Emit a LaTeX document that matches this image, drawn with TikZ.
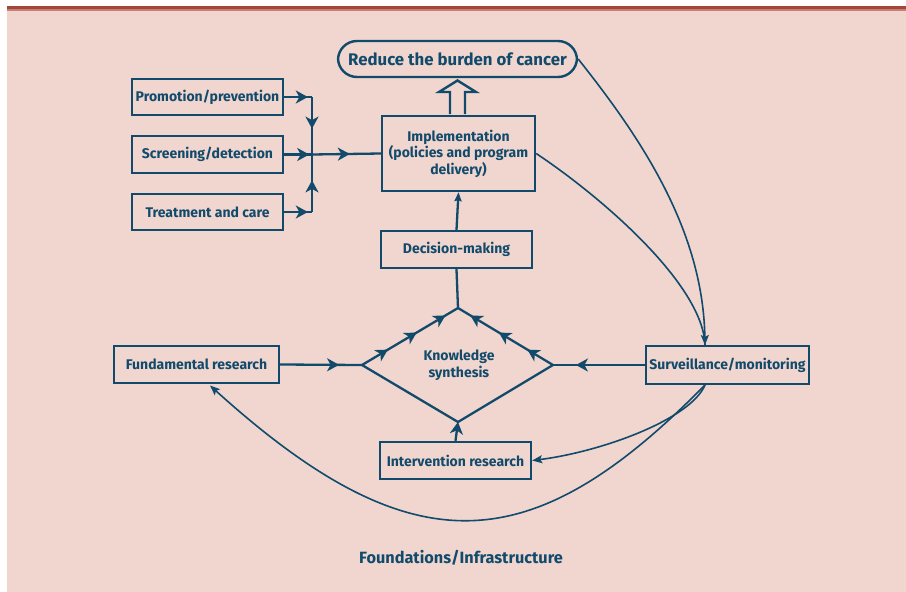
\documentclass[tikz,border=0pt]{standalone}
\usepackage{fontspec}
\setmainfont{Fira Sans}
\newfontfamily\condfont{Fira Sans}
\usetikzlibrary{arrows.meta,decorations.markings}
\definecolor{bgpink}{RGB}{240,214,207}
\definecolor{topred}{RGB}{166,70,58}
\definecolor{dblue}{RGB}{18,74,107}
\tikzset{
  box/.style={draw=dblue, line width=2.4pt, text=dblue, inner sep=0pt, align=center,
    font=\condfont\bfseries\fontsize{14}{16.5}\selectfont},
  ln/.style={draw=dblue, line width=2.3pt},
  cv/.style={draw=dblue, line width=1.6pt},
  midarr/.style={postaction={decorate,decoration={markings,
    mark=at position #1 with {\arrow{Stealth[length=12pt,width=13pt,inset=3.5pt]}}}}},
  endtip/.style={-{Stealth[length=10pt,width=8pt,inset=2pt]}},
}
\begin{document}
\begin{tikzpicture}[x=1pt,y=-1pt]
\useasboundingbox (0,0) rectangle (906,592);
\fill[bgpink] (7,6) rectangle (906,592);
\fill[topred] (7,6) rectangle (906,9.3);
\fill[topred!60!bgpink] (7,9.3) rectangle (906,10.5);

% nodes
\node[box, rounded corners=19pt, minimum width=239pt, minimum height=36pt,
  font=\condfont\bfseries\fontsize{16.8}{20}\selectfont] (reduce) at (457.5,59) {Reduce the burden of cancer};
\node[box, minimum width=151pt, minimum height=36pt] (prom) at (207.5,97) {Promotion/prevention};
\node[box, minimum width=151pt, minimum height=37pt] (scr) at (207.5,154.5) {Screening/detection};
\node[box, minimum width=151pt, minimum height=36pt] (treat) at (207.5,212) {Treatment and care};
\node[box, minimum width=153pt, minimum height=75pt] (impl) at (458.5,153.5) {Implementation\\(policies and program\\delivery)};
\node[box, minimum width=151pt, minimum height=37pt] (dec) at (456.5,249.5) {Decision-making};
\node[box, minimum width=165pt, minimum height=37pt] (fund) at (196.5,364.5) {Fundamental research};
\node[box, minimum width=163pt, minimum height=38pt] (surv) at (727.5,365) {Surveillance/monitoring};
\node[box, minimum width=151pt, minimum height=37pt] (inter) at (455.5,460.5) {Intervention research};
\node[text=dblue, align=center, font=\condfont\bfseries\fontsize{14}{17}\selectfont] (ks) at (459,365) {Knowledge\\synthesis};
\node[text=dblue, font=\condfont\bfseries\fontsize{16.3}{19}\selectfont] (found) at (461,558) {Foundations/Infrastructure};

% coordinates
\coordinate (pj) at (312,97);
\coordinate (tj) at (312,212);
\coordinate (j) at (312,154.5);
\coordinate (dL) at (362,365);
\coordinate (dT) at (458,308);
\coordinate (dR) at (553,365);
\coordinate (dB) at (458,422);
\coordinate (survtop) at (705,345);
\coordinate (survbot) at (705,385);

% input arrows
\draw[ln, midarr=0.85] (prom.east) -- (pj);
\draw[ln, midarr=0.55] (pj) -- (j);
\draw[ln, midarr=0.85] (treat.east) -- (tj);
\draw[ln, midarr=0.55] (tj) -- (j);
\draw[ln, midarr=0.9] (scr.east) -- (j);
\draw[ln, midarr=0.55] (j) -- (impl.west);

% hollow arrow
\draw[draw=dblue, line width=2.4pt, fill=bgpink, line join=miter]
  (450,114) -- (450,92) -- (439,92) -- (457.5,80.5) -- (476,92) -- (465,92) -- (465,114);

% decision -> implementation
\draw[ln, -{Stealth[length=9pt,width=7pt,inset=1pt]}] (dec.north) -- (impl.south);
\draw[ln] (dec.south) -- (dT);

% diamond
\draw[ln, line join=miter] (dL) -- (dB) -- (dR);
\draw[ln, midarr=0.27, midarr=0.57, midarr=0.87] (dL) -- (dT);
\draw[ln, midarr=0.27, midarr=0.57, midarr=0.87] (dR) -- (dT);
\draw[ln, midarr=0.72] (fund.east) -- (dL);
\draw[ln, midarr=0.75] (surv.west) -- (dR);
\draw[ln, -{Stealth[length=12pt,width=13pt,inset=3.5pt]}] (inter.north) -- (dB);

% curves
\draw[cv, endtip] (reduce.east) .. controls (641,138) and (703,230) .. (survtop);
\draw[cv] (impl.east) .. controls (603,198) and (703,285) .. (survtop);
\draw[cv, endtip] (survbot) .. controls (690,420) and (600,452) .. (inter.east);
\draw[cv, endtip] (survbot) .. controls (532,561) and (413,569) .. (210,385.5);
\end{tikzpicture}
\end{document}
